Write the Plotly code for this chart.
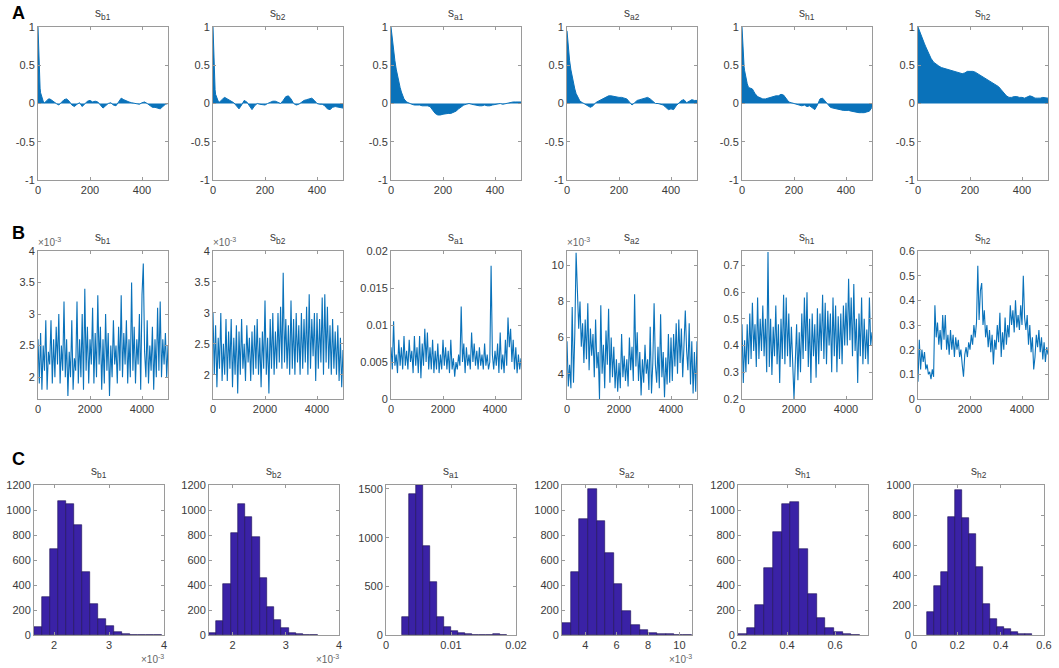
import plotly.graph_objects as go

# subplot titles (subscripts)
params = ["b1", "b2", "a1", "a2", "h1", "h2"]

# ---- A: autocorrelation of each chain ----
acf_lags = [0, 2, 4, 6, 8, 10, 15, 20, 25, 30, 35, 40, 45, 50,
            60, 70, 80, 90, 100, 110, 120, 130, 140, 150, 160, 170, 180, 190, 200,
            210, 220, 230, 240, 250, 260, 270, 280, 290, 300,
            310, 320, 330, 340, 350, 360, 370, 380, 390, 400,
            410, 420, 430, 440, 450, 460, 470, 480, 490, 500]

acf_sb1 = [1.0, 0.70, 0.45, 0.30, 0.20, 0.14, 0.07, 0.03, 0.01, 0.02, 0.04, 0.06, 0.06, 0.05,
           0.02, 0.00, -0.02, 0.01, 0.05,
           0.06, 0.03, -0.02, -0.04, -0.01, 0.01, -0.04, 0.00, 0.03, 0.04,
           0.02, 0.03, 0.02, -0.02, -0.06, -0.03, 0.00, 0.01, -0.02, -0.03,
           0.02, 0.07, 0.05, 0.03, 0.02, 0.01, 0.00, -0.01, -0.01, 0.01,
           0.02, 0.00, -0.03, -0.05, -0.05, -0.06, -0.07, -0.04, -0.01, 0.00]
acf_sb2 = [1.0, 0.70, 0.42, 0.28, 0.18, 0.12, 0.06, 0.03, 0.02, 0.03, 0.05, 0.07, 0.08, 0.07,
           0.05, 0.03, 0.01, -0.03, -0.07,
           -0.02, 0.04, 0.02, -0.03, -0.08, -0.03, 0.00, -0.01, -0.02, -0.02,
           0.00, 0.02, 0.03, 0.03, 0.02, 0.00, 0.04, 0.09, 0.10, 0.06,
           0.00, -0.02, -0.01, 0.02, 0.04, 0.05, 0.06, 0.07, 0.04, 0.00,
           -0.01, -0.01, -0.03, -0.07, -0.08, -0.05, -0.04, -0.05, -0.06, -0.06]
acf_sa1 = [1.0, 0.93, 0.86, 0.80, 0.74, 0.69, 0.56, 0.45, 0.36, 0.28, 0.21, 0.15, 0.10, 0.06,
           0.02, 0.00, -0.01, -0.02, -0.02,
           -0.02, -0.03, -0.03, -0.03, -0.04, -0.08, -0.13, -0.15, -0.15, -0.14,
           -0.13, -0.13, -0.13, -0.12, -0.10, -0.07, -0.04, -0.02, -0.01, 0.00,
           -0.01, -0.02, -0.03, -0.03, -0.03, -0.02, -0.03, -0.03, -0.02, -0.01,
           0.00, 0.00, -0.01, 0.00, 0.01, 0.01, 0.02, 0.02, 0.02, 0.02]
acf_sa2 = [0.95, 0.86, 0.78, 0.70, 0.63, 0.56, 0.44, 0.34, 0.26, 0.19, 0.13, 0.09, 0.05, 0.03,
           0.01, -0.01, -0.04, -0.05, -0.03,
           0.01, 0.03, 0.05, 0.07, 0.09, 0.10, 0.10, 0.09, 0.08, 0.08,
           0.08, 0.07, 0.06, 0.02, -0.02, 0.01, 0.04, 0.05, 0.06, 0.07,
           0.08, 0.06, 0.03, 0.00, 0.00, -0.01, -0.02, -0.05, -0.08, -0.07,
           -0.08, -0.03, 0.00, 0.04, 0.05, 0.01, 0.03, 0.05, 0.04, 0.04]
acf_sh1 = [1.0, 0.80, 0.65, 0.55, 0.48, 0.43, 0.33, 0.26, 0.21, 0.20, 0.20, 0.19, 0.16, 0.13,
           0.09, 0.07, 0.06, 0.06, 0.07,
           0.08, 0.10, 0.10, 0.10, 0.12, 0.11, 0.06, 0.02, 0.01, 0.00,
           -0.02, -0.03, -0.03, -0.02, -0.04, -0.03, -0.06, -0.08, -0.02, 0.06,
           0.07, 0.03, 0.00, -0.05, -0.06, -0.07, -0.08, -0.08, -0.09, -0.09,
           -0.09, -0.10, -0.11, -0.12, -0.12, -0.12, -0.12, -0.11, -0.10, -0.05]
acf_sh2 = [1.0, 0.98, 0.96, 0.94, 0.92, 0.90, 0.86, 0.82, 0.78, 0.74, 0.70, 0.66, 0.62, 0.59,
           0.54, 0.51, 0.49, 0.47, 0.46,
           0.45, 0.44, 0.43, 0.42, 0.41, 0.40, 0.39, 0.40, 0.42, 0.42,
           0.42, 0.41, 0.39, 0.36, 0.34, 0.32, 0.30, 0.29, 0.27, 0.25,
           0.22, 0.18, 0.14, 0.10, 0.08, 0.08, 0.09, 0.09, 0.08, 0.08,
           0.07, 0.08, 0.10, 0.09, 0.07, 0.07, 0.07, 0.08, 0.07, 0.07]

# ---- B: trace plots (every 50th draw) ----
trace_iter = list(range(0, 5001, 50))

trace_sb1 = [2.6, 1.9, 2.7, 1.8, 2.5, 2.1, 2.9, 1.8, 2.4, 2.2,
             2.9, 1.9, 2.6, 2.0, 2.8, 2.2, 3.0, 1.9, 2.5, 2.1,
             3.2, 2.0, 2.6, 1.7, 2.4, 2.0, 2.9, 1.8, 2.3, 2.1,
             3.2, 1.9, 2.6, 2.0, 3.0, 1.8, 3.4, 2.1, 2.8, 1.9,
             2.6, 2.2, 3.1, 1.9, 2.7, 2.0, 3.3, 2.2, 2.8, 1.8,
             2.6, 1.9, 3.0, 2.1, 2.7, 1.7, 2.5, 2.0, 2.9, 2.2,
             2.5, 1.9, 2.8, 2.1, 3.3, 2.0, 2.7, 2.2, 2.9, 1.9,
             2.6, 2.0, 3.5, 2.1, 2.8, 1.9, 2.6, 2.2, 3.0, 1.8,
             3.3, 3.8, 2.4, 2.0, 2.9, 1.9, 2.5, 2.1, 2.8, 1.8,
             2.6, 2.0, 3.1, 2.1, 3.2, 2.0, 2.6, 2.2, 2.7, 2.0,
             2.5]  # x10^-3
trace_sb2 = [3.0, 2.0, 2.8, 1.8, 2.6, 2.1, 3.0, 1.9, 2.5, 2.0,
             2.9, 1.9, 2.7, 2.1, 2.9, 1.8, 2.6, 2.0, 2.8, 1.7,
             2.7, 2.0, 2.9, 2.1, 2.5, 1.9, 2.8, 2.2, 2.6, 1.9,
             2.7, 2.0, 2.8, 2.1, 2.9, 2.0, 2.6, 1.8, 2.7, 2.1,
             3.2, 2.0, 2.6, 1.7, 2.9, 2.1, 3.0, 2.0, 2.7, 2.1,
             3.0, 2.2, 3.1, 2.1, 3.65, 2.2, 2.9, 2.1, 2.8, 2.0,
             3.2, 2.1, 2.9, 2.0, 3.0, 2.2, 2.8, 2.0, 3.0, 2.1,
             2.9, 2.2, 3.1, 2.0, 3.3, 2.1, 2.9, 2.3, 3.0, 1.9,
             3.0, 2.1, 2.9, 2.2, 3.25, 2.0, 3.3, 2.2, 3.1, 2.1,
             2.8, 2.0, 2.9, 2.1, 2.7, 2.0, 2.8, 1.9, 2.6, 1.8,
             2.4]  # x10^-3
trace_sa1 = [0.0070, 0.0040, 0.0105, 0.0045, 0.0060, 0.0035, 0.0080, 0.0045, 0.0070, 0.0040,
             0.0085, 0.0045, 0.0065, 0.0040, 0.0080, 0.0050, 0.0065, 0.0035, 0.0085, 0.0045,
             0.0070, 0.0035, 0.0085, 0.0028, 0.0075, 0.0045, 0.0095, 0.0050, 0.0090, 0.0040,
             0.0070, 0.0040, 0.0080, 0.0035, 0.0065, 0.0040, 0.0075, 0.0035, 0.0060, 0.0040,
             0.0080, 0.0045, 0.0070, 0.0040, 0.0065, 0.0035, 0.0080, 0.0040, 0.0055, 0.0030,
             0.0050, 0.0040, 0.0060, 0.0045, 0.0125, 0.0050, 0.0075, 0.0035, 0.0070, 0.0045,
             0.0060, 0.0040, 0.0090, 0.0050, 0.0075, 0.0045, 0.0065, 0.0040, 0.0070, 0.0045,
             0.0060, 0.0040, 0.0075, 0.0045, 0.0060, 0.0040, 0.0050, 0.0180, 0.0060, 0.0040,
             0.0065, 0.0045, 0.0075, 0.0035, 0.0090, 0.0040, 0.0060, 0.0035, 0.0080, 0.0045,
             0.0110, 0.0070, 0.0095, 0.0050, 0.0080, 0.0040, 0.0070, 0.0035, 0.0060, 0.0040,
             0.0055]
trace_sa2 = [5.8, 3.3, 4.5, 3.2, 7.7, 3.5, 6.2, 10.7, 8.6, 6.5,
             8.0, 5.5, 6.8, 4.6, 7.0, 4.8, 7.9, 4.2, 6.5, 5.0,
             6.2, 3.8, 7.0, 4.3, 5.2, 2.6, 7.8, 4.0, 5.6, 3.2,
             6.4, 4.5, 7.6, 3.5, 6.0, 3.8, 5.5, 3.2, 4.8, 3.0,
             4.6, 3.2, 6.2, 3.8, 5.0, 3.6, 4.8, 3.3, 6.0, 4.2,
             5.5, 3.6, 8.4, 4.4, 6.3, 3.6, 5.2, 2.8, 4.8, 3.5,
             5.6, 4.0, 4.8, 3.1, 6.6, 2.9, 4.6, 7.9, 4.5, 3.5,
             5.5, 3.2, 7.3, 3.8, 5.2, 2.7, 4.9, 3.4, 6.2, 3.5,
             6.0, 3.6, 6.2, 4.4, 6.8, 4.0, 7.0, 4.6, 6.5, 3.8,
             5.6, 7.5, 5.3, 4.2, 6.8, 3.4, 5.8, 2.9, 5.2, 3.0,
             5.8]  # x10^-3
trace_sh1 = [0.48, 0.26, 0.42, 0.30, 0.48, 0.33, 0.52, 0.35, 0.56, 0.38,
             0.48, 0.32, 0.58, 0.35, 0.50, 0.38, 0.55, 0.36, 0.50, 0.30,
             0.75, 0.32, 0.50, 0.29, 0.47, 0.36, 0.55, 0.33, 0.48, 0.26,
             0.50, 0.35, 0.59, 0.33, 0.58, 0.36, 0.52, 0.32, 0.47, 0.30,
             0.20, 0.34, 0.48, 0.27, 0.45, 0.30, 0.52, 0.35, 0.58, 0.38,
             0.60, 0.32, 0.50, 0.26, 0.52, 0.36, 0.48, 0.28, 0.54, 0.33,
             0.52, 0.38, 0.59, 0.35, 0.56, 0.33, 0.53, 0.40, 0.52, 0.30,
             0.58, 0.36, 0.55, 0.30, 0.51, 0.35, 0.52, 0.33, 0.55, 0.40,
             0.56, 0.40, 0.65, 0.42, 0.58, 0.36, 0.63, 0.38, 0.50, 0.26,
             0.52, 0.36, 0.58, 0.33, 0.50, 0.35, 0.46, 0.33, 0.58, 0.40,
             0.45]
trace_sh2 = [0.07, 0.24, 0.12, 0.20, 0.15, 0.19, 0.12, 0.14, 0.10, 0.11,
             0.08, 0.12, 0.09, 0.38, 0.25, 0.31, 0.22, 0.28, 0.20, 0.34,
             0.24, 0.34, 0.20, 0.26, 0.18, 0.28, 0.20, 0.26, 0.17, 0.25,
             0.20, 0.24, 0.17, 0.20, 0.14, 0.09, 0.18, 0.21, 0.17, 0.23,
             0.20, 0.26, 0.22, 0.30, 0.25, 0.31, 0.54, 0.32, 0.44, 0.47,
             0.30, 0.36, 0.25, 0.30, 0.21, 0.28, 0.19, 0.26, 0.14, 0.24,
             0.20, 0.30, 0.23, 0.35, 0.17, 0.27, 0.20, 0.33, 0.22, 0.30,
             0.25, 0.38, 0.30, 0.36, 0.27, 0.40, 0.29, 0.34, 0.28, 0.38,
             0.30, 0.50, 0.33, 0.28, 0.34, 0.22, 0.30, 0.19, 0.25, 0.12,
             0.17, 0.26, 0.21, 0.28, 0.19, 0.25, 0.16, 0.23, 0.15, 0.21,
             0.18]

# ---- C: posterior histograms ----
hist_start = [1.64, 1.556, 0.0025, 2.52, 0.196, 0.0615]
hist_binw = [0.145, 0.136, 0.00107, 0.55, 0.0363, 0.0323]
hist_sb1 = [61, 301, 685, 1072, 1048, 880, 507, 251, 128, 75, 24, 11, 4, 2, 1, 1]
hist_sb2 = [13, 112, 408, 813, 1045, 947, 787, 459, 227, 117, 53, 19, 5, 3, 1]
hist_sa1 = [188, 1449, 1541, 918, 541, 188, 79, 45, 17, 8, 5, 3, 2, 6, 1]
hist_sa2 = [93, 507, 925, 1165, 915, 659, 408, 195, 77, 40, 19, 10, 5, 3, 1]
hist_sh1 = [8, 59, 241, 536, 826, 1051, 1062, 689, 330, 137, 54, 21, 8, 3]
hist_sh2 = [156, 324, 417, 788, 967, 777, 674, 451, 205, 105, 56, 42, 20, 9, 4]

# axis ranges / ticks per panel
trace_yrange = [[1.653, 4.0], [1.61, 4.0], [0, 0.02], [2.6, 10.8], [0.2, 0.754], [0, 0.6]]
trace_yticks = [[2, 2.5, 3, 3.5, 4], [2, 2.5, 3, 3.5, 4], [0, 0.005, 0.01, 0.015, 0.02],
                [4, 6, 8, 10], [0.2, 0.3, 0.4, 0.5, 0.6, 0.7], [0, 0.1, 0.2, 0.3, 0.4, 0.5, 0.6]]
hist_xrange = [[1.636, 4.0], [1.556, 4.0], [0, 0.02], [2.52, 10.8], [0.196, 0.737], [0, 0.6]]
hist_xticks = [[2, 3, 4], [2, 3, 4], [0, 0.01, 0.02], [4, 6, 8, 10], [0.2, 0.4, 0.6], [0, 0.2, 0.4, 0.6]]
hist_yrange = [[0, 1200], [0, 1200], [0, 1541], [0, 1200], [0, 1200], [0, 1000]]
hist_yticks = [list(range(0, 1201, 200))] * 2 + [[0, 500, 1000, 1500]] + \
              [list(range(0, 1201, 200))] * 2 + [list(range(0, 1001, 200))]
scaled = [True, True, False, True, False, False]  # shown in units of 10^-3

acfs = [acf_sb1, acf_sb2, acf_sa1, acf_sa2, acf_sh1, acf_sh2]
traces = [trace_sb1, trace_sb2, trace_sa1, trace_sa2, trace_sh1, trace_sh2]
hists = [hist_sb1, hist_sb2, hist_sa1, hist_sa2, hist_sh1, hist_sh2]

W, H = 1059, 668
col_left = [[38, 213, 391, 567, 742, 918],
            [38, 213, 391, 567, 742, 918],
            [34, 209, 386, 562, 738, 914]]
panel_w = 130
row_span = [(27, 180), (251, 399), (485, 635)]

BLUE = "#0a72ba"
AXCOL = "#9a9a9a"
TXT = "#3a3a3a"
FONT = "Liberation Sans, Arial, sans-serif"


def lab(v):
    return f"{v:g}"


def px(x):
    return x / W


def py(y):
    return 1 - y / H


fig = go.Figure()
annotations = []

for r in range(3):
    for c in range(6):
        k = r * 6 + c + 1
        xa = "x" if k == 1 else f"x{k}"
        ya = "y" if k == 1 else f"y{k}"
        left = col_left[r][c]
        top, bot = row_span[r]

        if r == 0:
            fig.add_trace(go.Scatter(x=acf_lags, y=acfs[c], mode="lines", fill="tozeroy",
                                     line=dict(color=BLUE, width=1), fillcolor=BLUE,
                                     xaxis=xa, yaxis=ya, hoverinfo="skip"))
            xr, xt = [0, 500], [0, 200, 400]
            yr, yt = [-1, 1], [-1, -0.5, 0, 0.5, 1]
        elif r == 1:
            fig.add_trace(go.Scatter(x=trace_iter, y=traces[c], mode="lines",
                                     line=dict(color=BLUE, width=1.1),
                                     xaxis=xa, yaxis=ya, hoverinfo="skip"))
            xr, xt = [0, 5000], [0, 2000, 4000]
            yr, yt = trace_yrange[c], trace_yticks[c]
        else:
            centers = [hist_start[c] + (i + 0.5) * hist_binw[c] for i in range(len(hists[c]))]
            fig.add_trace(go.Bar(x=centers, y=hists[c], width=hist_binw[c],
                                 marker=dict(color="#3a22a6", line=dict(color="#1b0f55", width=0.6)),
                                 xaxis=xa, yaxis=ya, hoverinfo="skip"))
            xr, xt = hist_xrange[c], hist_xticks[c]
            yr, yt = hist_yrange[c], hist_yticks[c]

        common = dict(showline=True, linecolor=AXCOL, linewidth=1, mirror="ticks",
                      ticks="inside", ticklen=3, tickcolor=AXCOL, showgrid=False,
                      zeroline=False, automargin=False,
                      tickfont=dict(size=11, color=TXT, family=FONT))
        fig.layout["xaxis" if k == 1 else f"xaxis{k}"] = dict(
            domain=[px(left), px(left + panel_w)], anchor=ya, range=xr,
            tickvals=xt, ticktext=[lab(v) for v in xt], **common)
        fig.layout["yaxis" if k == 1 else f"yaxis{k}"] = dict(
            domain=[py(bot), py(top)], anchor=xa, range=yr,
            tickvals=yt, ticktext=[lab(v) for v in yt], **common)

        # panel title
        annotations.append(dict(x=px(left + panel_w / 2), y=py(top - 3), xref="paper", yref="paper",
                                text=f"s<sub>{params[c]}</sub>", showarrow=False,
                                xanchor="center", yanchor="bottom",
                                font=dict(size=12, color=TXT, family=FONT)))
        # exponent labels
        if r == 1 and scaled[c]:
            annotations.append(dict(x=px(left - 2), y=py(top - 1), xref="paper", yref="paper",
                                    text="×10<sup>-3</sup>", showarrow=False,
                                    xanchor="left", yanchor="bottom",
                                    font=dict(size=10, color="#666666", family=FONT)))
        if r == 2 and scaled[c]:
            annotations.append(dict(x=px(left + panel_w + 2), y=py(bot + 16), xref="paper", yref="paper",
                                    text="×10<sup>-3</sup>", showarrow=False,
                                    xanchor="right", yanchor="top",
                                    font=dict(size=10, color="#666666", family=FONT)))

# panel letters
for letter, ly in zip(["A", "B", "C"], [13, 233, 459]):
    annotations.append(dict(x=px(10), y=py(ly), xref="paper", yref="paper", text=f"<b>{letter}</b>",
                            showarrow=False, xanchor="left", yanchor="middle",
                            font=dict(size=18, color="black", family=FONT)))

fig.update_layout(
    width=W, height=H,
    margin=dict(l=0, r=0, t=0, b=0, autoexpand=False),
    paper_bgcolor="white", plot_bgcolor="white",
    showlegend=False, bargap=0,
    annotations=annotations,
    font=dict(family=FONT, color=TXT, size=11),
)

# drop the page's default body margin so the 1059x668 figure fills the window
fig.write_html("out.html", config={"displayModeBar": False},
               post_script="document.body.style.margin='0';document.body.style.overflow='hidden';")
